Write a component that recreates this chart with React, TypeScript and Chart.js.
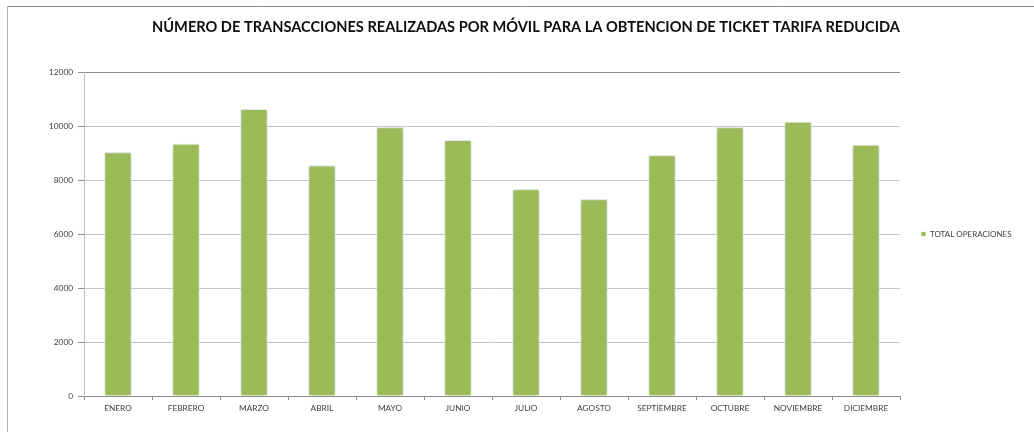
import React, { useEffect, useRef } from "react";
import { Chart, registerables } from "chart.js";

Chart.register(...registerables);

const months = ["ENERO", "FEBRERO", "MARZO", "ABRIL", "MAYO", "JUNIO", "JULIO", "AGOSTO", "SEPTIEMBRE", "OCTUBRE", "NOVIEMBRE", "DICIEMBRE"];
const totalOperaciones = [9030, 9340, 10630, 8540, 9950, 9480, 7660, 7290, 8920, 9950, 10160, 9310];
const seriesLabel = "TOTAL OPERACIONES";
const chartTitle = "NÚMERO DE TRANSACCIONES REALIZADAS POR MÓVIL PARA LA OBTENCION DE TICKET TARIFA REDUCIDA";
const yMax = 12000;
const yStep = 2000;

const FONT = "Lato, 'Open Sans', sans-serif";

const framePlugin = {
  id: "frame",
  beforeDraw(chart: any) {
    const ctx = chart.ctx;
    ctx.save();
    ctx.fillStyle = "#ffffff";
    ctx.fillRect(0, 0, chart.width, chart.height);
    ctx.lineWidth = 1;
    ctx.strokeStyle = "#8a8a8a";
    ctx.beginPath();
    ctx.moveTo(7, 6.5);
    ctx.lineTo(chart.width, 6.5);
    ctx.stroke();
    ctx.strokeStyle = "#b4b4b4";
    ctx.beginPath();
    ctx.moveTo(7.5, 6);
    ctx.lineTo(7.5, chart.height);
    ctx.stroke();
    ctx.restore();
  },
};

const legendWidthPlugin = {
  id: "legendWidth",
  beforeLayout(chart: any) {
    const lg = chart.legend;
    if (lg && !lg.__patched) {
      const orig = lg.fit;
      lg.fit = function () {
        orig.call(this);
        this.width = 134;
      };
      lg.__patched = true;
    }
  },
};

const shadowPlugin = {
  id: "barShadow",
  beforeDatasetsDraw(chart: any) {
    const ctx = chart.ctx;
    ctx.save();
    ctx.shadowColor = "rgba(0,0,0,0.2)";
    ctx.shadowBlur = 3;
    ctx.shadowOffsetX = 0;
    ctx.shadowOffsetY = 0;
  },
  afterDatasetsDraw(chart: any) {
    chart.ctx.restore();
  },
};

export default function App() {
  const ref = useRef<HTMLCanvasElement | null>(null);
  useEffect(() => {
    if (!ref.current) return;
    const chart = new Chart(ref.current, {
      type: "bar",
      data: {
        labels: months,
        datasets: [
          {
            label: seriesLabel,
            data: totalOperaciones,
            backgroundColor: "#9bbb59",
            borderColor: "#f6f8f0",
            borderWidth: 1,
            barPercentage: 0.4,
            categoryPercentage: 1,
          },
        ],
      },
      options: {
        responsive: false,
        animation: false,
        layout: { padding: { left: 18, right: 0, top: 0, bottom: 0 } },
        plugins: {
          title: {
            display: true,
            text: chartTitle,
            color: "#0d0d0d",
            font: { family: FONT, size: 14.6, weight: "bold", lineHeight: 1.2 },
            padding: { top: 18.2, bottom: 36.3 },
          },
          legend: {
            position: "right",
            fullSize: false,
            labels: {
              boxWidth: 5,
              boxHeight: 5,
              padding: 21,
              color: "#404040",
              font: { family: FONT, size: 8 },
            },
          },
          tooltip: { enabled: false },
        },
        scales: {
          x: {
            grid: {
              display: true,
              drawOnChartArea: false,
              drawTicks: true,
              tickLength: 4,
              color: "#8c8c8c",
            },
            border: { display: true, color: "#8c8c8c" },
            ticks: {
              color: "#404040",
              font: { family: FONT, size: 8.3 },
              padding: 3,
              maxRotation: 0,
              autoSkip: false,
            },
            afterFit(scale: any) {
              scale.height = 36;
            },
          },
          y: {
            min: 0,
            max: yMax,
            ticks: {
              stepSize: yStep,
              color: "#404040",
              font: { family: FONT, size: 8.3 },
              padding: 5,
              callback: (v: any) => String(v),
            },
            grid: {
              color: (c: any) => (c.tick && c.tick.value === yMax ? "#8c8c8c" : "#c6c6c6"),
              tickColor: "#8c8c8c",
              tickLength: 6,
            },
            border: { display: true, color: "#bdbdbd" },
            afterFit(scale: any) {
              scale.width = 66;
            },
          },
        },
      },
      plugins: [framePlugin, legendWidthPlugin, shadowPlugin],
    } as any);
    return () => chart.destroy();
  }, []);
  return (
    <div style={{ position: "absolute", left: 0, top: 0, width: 1034, height: 432 }}>
      <canvas ref={ref} width={1034} height={432} style={{ display: "block" }} />
    </div>
  );
}
